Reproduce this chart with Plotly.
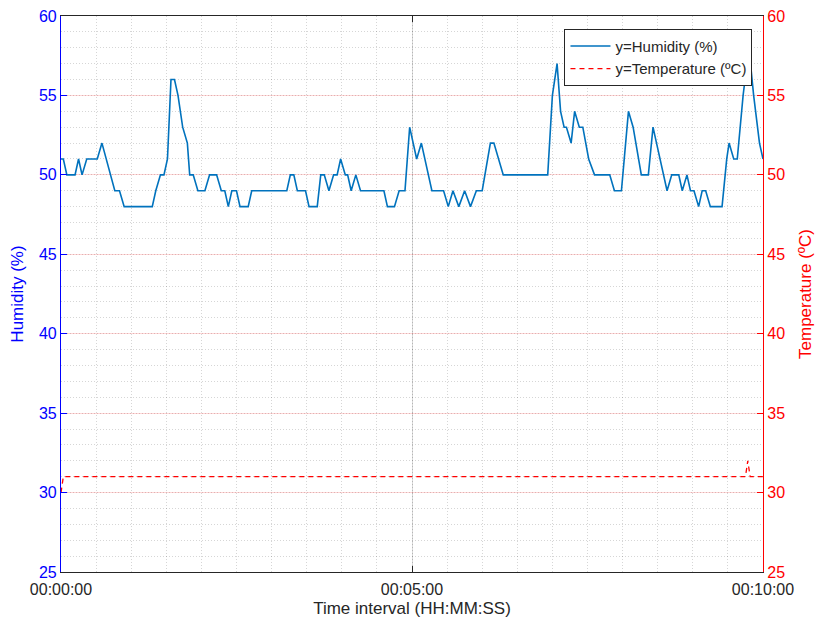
import plotly.graph_objects as go

# Relative humidity samples: elapsed seconds and reading (%)
hum_t = [0, 2, 5, 12, 15, 18, 22, 31, 35, 42, 46, 50, 54, 78, 81, 85, 88, 91, 94, 97,
         100, 104, 108, 110, 113, 117, 123, 127, 133, 137, 140, 143, 146, 150, 153, 160,
         163, 193, 196, 199, 202, 209, 212, 219, 222, 225, 229, 233, 236, 239, 243, 245,
         248, 252, 256, 276, 279, 285, 289, 294, 298, 304, 308, 317, 327, 331, 335, 340,
         345, 350, 355, 360, 367, 370, 378, 416, 420, 424, 427, 430, 432, 436, 439, 443,
         446, 451, 456, 469, 473, 479, 485, 489, 496, 502, 506, 509, 512, 518, 522, 528,
         531, 535, 538, 541, 545, 548, 551, 555, 565, 569, 571, 575, 578, 583, 588, 592,
         597, 600]
hum_v = [51, 51, 50, 50, 51, 50, 51, 51, 52, 50, 49, 49, 48, 48, 49, 50, 50, 51, 56, 56,
         55, 53, 52, 50, 50, 49, 49, 50, 50, 49, 49, 48, 49, 49, 48, 48,
         49, 49, 50, 50, 49, 49, 48, 48, 50, 50, 49, 50, 50, 51, 50, 50,
         49, 50, 49, 49, 48, 48, 49, 49, 53, 51, 52, 49, 49, 48, 49, 48,
         49, 48, 49, 49, 52, 52, 50, 50, 55, 57, 54, 53, 53, 52, 54, 53,
         53, 51, 50, 50, 49, 49, 54, 53, 50, 50, 53, 52, 51, 49, 50, 50,
         49, 50, 49, 49, 48, 49, 49, 48, 48, 51, 52, 51, 51, 55, 58, 55,
         52, 51]

# Temperature samples: elapsed seconds and reading (ºC)
temp_t = [0, 2, 585, 587, 589, 600]
temp_v = [30, 31, 31, 32, 31, 31]

time_ticks = [0, 300, 600]
time_labels = ["00:00:00", "00:05:00", "00:10:00"]
y_ticks = [25, 30, 35, 40, 45, 50, 55, 60]

FONT = "Liberation Sans, Arial, sans-serif"
DARK = "#262626"
BLUE = "#0000FF"
RED = "#FF0000"
MINOR = "rgba(0,0,0,0.16)"

fig = go.Figure()
fig.add_trace(go.Scatter(
    x=hum_t, y=hum_v, mode="lines", name="y=Humidity (%)",
    line=dict(color="#0072BD", width=1.6), yaxis="y",
))
fig.add_trace(go.Scatter(
    x=temp_t, y=temp_v, mode="lines", name="y=Temperature (ºC)",
    line=dict(color=RED, width=1.3, dash="5px,4px"), yaxis="y2",
))

fig.update_layout(
    width=815, height=624,
    margin=dict(l=61, r=52, t=16, b=52),
    paper_bgcolor="white", plot_bgcolor="white",
    font=dict(family=FONT, size=15, color=DARK),
    showlegend=True,
    legend=dict(
        x=0.985, y=0.977, xanchor="right", yanchor="top",
        bgcolor="white", bordercolor=DARK, borderwidth=1,
        font=dict(family=FONT, size=15, color=DARK),
        tracegroupgap=0, itemwidth=40,
    ),
    xaxis=dict(
        range=[0, 600], tickvals=time_ticks, ticktext=time_labels,
        ticks="inside", ticklen=6, tickcolor=DARK,
        showline=True, linecolor=DARK, linewidth=1.2, mirror="ticks",
        showgrid=True, gridcolor="rgba(0,0,0,0.15)", gridwidth=1,
        zeroline=False, ticklabelstandoff=3, automargin=False,
        tickfont=dict(family=FONT, size=16, color=DARK),
        title=dict(text="Time interval (HH:MM:SS)",
                   font=dict(family=FONT, size=17, color=DARK), standoff=4),
        minor=dict(dtick=30, tick0=0, showgrid=True, griddash="1px,2px",
                   gridcolor=MINOR, gridwidth=1),
    ),
    yaxis=dict(
        range=[25, 60], tickvals=y_ticks,
        ticks="inside", ticklen=6, tickcolor=BLUE,
        showline=True, linecolor=BLUE, linewidth=1.2,
        showgrid=True, gridcolor="rgba(255,0,0,0.16)", gridwidth=1,
        zeroline=False, automargin=False,
        tickfont=dict(family=FONT, size=16, color=BLUE),
        title=dict(text="Humidity (%)",
                   font=dict(family=FONT, size=17, color=BLUE), standoff=10),
        minor=dict(dtick=1, tick0=25, showgrid=True, griddash="1px,2px",
                   gridcolor=MINOR, gridwidth=1),
    ),
    yaxis2=dict(
        range=[25, 60], tickvals=y_ticks, overlaying="y", side="right",
        ticks="inside", ticklen=6, tickcolor=RED,
        showline=True, linecolor=RED, linewidth=1.2,
        showgrid=False, zeroline=False, automargin=False,
        tickfont=dict(family=FONT, size=16, color=RED),
        title=dict(text="Temperature (ºC)",
                   font=dict(family=FONT, size=17, color=RED), standoff=14),
    ),
)

fig.write_html("out.html")
